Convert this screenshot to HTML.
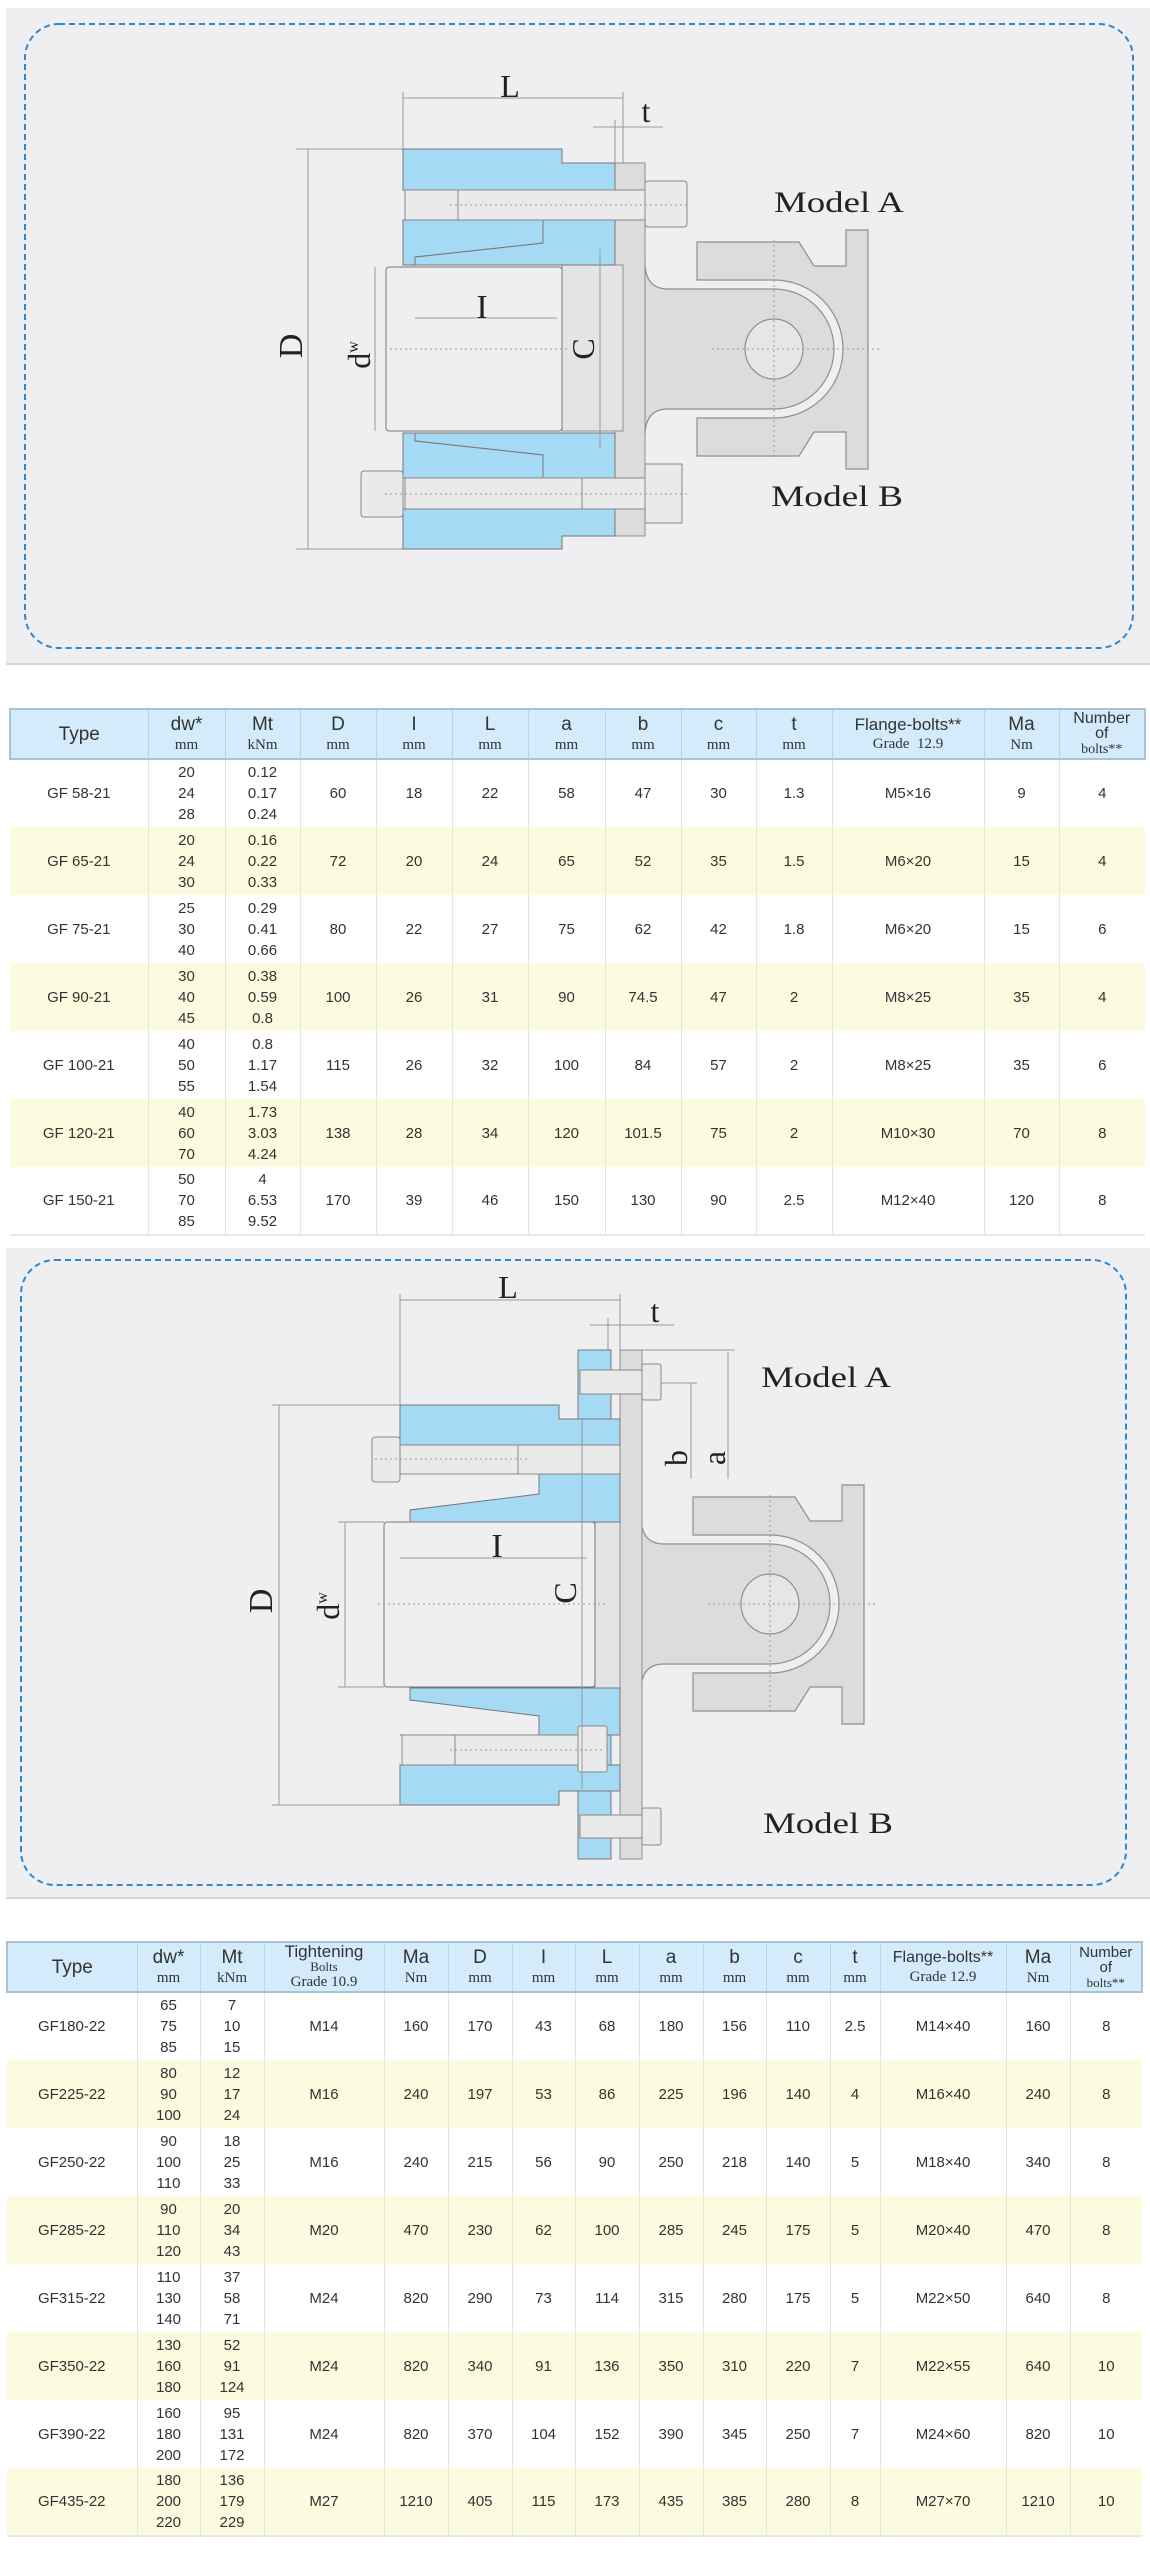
<!DOCTYPE html>
<html><head><meta charset="utf-8"><style>
*{margin:0;padding:0;box-sizing:border-box}
body{width:1150px;height:2554px;background:#fff;position:relative;font-family:"Liberation Sans",sans-serif;overflow:hidden}
svg{position:absolute;left:0}
table{position:absolute;border-collapse:collapse;table-layout:fixed;color:#333}
th{background:#d3ebfa;font-weight:normal;border-left:1px solid #b9d3e4;border-top:2px solid #a9c3d6;border-bottom:2px solid #a9c3d6;height:50px;line-height:1;vertical-align:middle;text-align:center;font-size:19px;color:#333}
th:first-child{border-left:2px solid #a9c3d6}
th:last-child{border-right:2px solid #a9c3d6}
th small{display:block;font-family:"Liberation Serif",serif;font-size:15px;margin-top:4px}
td{border-left:1px solid #e4e4e4;text-align:center;font-size:15px;height:68px;line-height:21px;vertical-align:middle}
td:first-child{border-left:none}
tr.y td{background:#fdfbdf}
tr:last-child td{border-bottom:2px solid #e8e8e8}
.dim{stroke:#999;stroke-width:1;fill:none}
.lbl{font-family:"Liberation Serif",serif;fill:#222}
</style></head><body>

<svg width="1150" height="2554" viewBox="0 0 1150 2554">
<defs>
<g id="pillow">
 <path d="M697,242 L799,242 L814,266 L846,266 L846,230 L868,230 L868,469 L846,469 L846,432 L814,432 L799,456 L697,456 L697,418 L774,418 A69,69 0 0 0 774,280 L697,280 Z" fill="#dcdcdc" stroke="#8f8f8f" stroke-width="1.2"/>
 <path d="M645,262 Q645,289 668,289 L774,289 A60,60 0 0 1 774,409 L668,409 Q645,409 645,436 Z" fill="#dcdcdc" stroke="#8f8f8f" stroke-width="1.2"/>
 <ellipse cx="774" cy="349" rx="29" ry="30" fill="#e6e6e6" stroke="#8f8f8f" stroke-width="1.2"/>
 <line x1="712" y1="349" x2="882" y2="349" stroke="#999" stroke-dasharray="2,3"/>
 <line x1="774" y1="240" x2="774" y2="460" stroke="#999" stroke-dasharray="2,3"/>
</g>
</defs>
<!-- panel 1 -->
<rect x="6" y="8" width="1144" height="656" fill="#efeff1"/>
<line x1="6" y1="664" x2="1150" y2="664" stroke="#d6d6d6" stroke-width="2"/>
<rect x="25" y="24" width="1108" height="624" rx="34" fill="none" stroke="#2a8ad8" stroke-width="2" stroke-dasharray="6,4"/>
<use href="#pillow"/>
<!-- flange gray -->
<rect x="615" y="163" width="30" height="373" fill="#dcdcdc" stroke="#8f8f8f"/>
<rect x="562" y="265" width="61" height="166" fill="#e4e4e4" stroke="#8f8f8f"/>
<!-- blue upper -->
<path d="M403,149 L562,149 L562,163 L615,163 L615,190 L403,190 Z" fill="#a4daf4" stroke="#777"/>
<path d="M403,220 L615,220 L615,265 L415,265 L415,257 L543,243 L543,220 Z" fill="#a4daf4" stroke="#777"/>
<path d="M403,220 L543,220 L543,243 L415,257 L415,265 L403,265 Z" fill="#a4daf4" stroke="#777"/>
<!-- blue lower -->
<path d="M403,549 L562,549 L562,536 L615,536 L615,509 L403,509 Z" fill="#a4daf4" stroke="#777"/>
<path d="M403,478 L615,478 L615,433 L415,433 L415,441 L543,455 L543,478 Z" fill="#a4daf4" stroke="#777"/>
<path d="M403,478 L543,478 L543,455 L415,441 L415,433 L403,433 Z" fill="#a4daf4" stroke="#777"/>
<!-- bolts -->
<rect x="405" y="190" width="240" height="30" fill="#eaeaea" stroke="#888"/>
<rect x="645" y="181" width="42" height="46" rx="3" fill="#eaeaea" stroke="#888"/>
<line x1="458" y1="190" x2="458" y2="220" stroke="#888"/>
<rect x="405" y="478" width="240" height="31" fill="#eaeaea" stroke="#888"/>
<rect x="361" y="471" width="42" height="46" rx="3" fill="#eaeaea" stroke="#888"/>
<rect x="645" y="464" width="37" height="59" fill="#eaeaea" stroke="#888"/>
<line x1="582" y1="478" x2="582" y2="509" stroke="#888"/>
<!-- shaft -->
<rect x="386" y="267" width="176" height="164" rx="3" fill="#efefef" stroke="#777"/>
<line x1="450" y1="205" x2="690" y2="205" stroke="#999" stroke-dasharray="2,3"/>
<line x1="385" y1="494" x2="690" y2="494" stroke="#999" stroke-dasharray="2,3"/>
<line x1="390" y1="349" x2="570" y2="349" stroke="#999" stroke-dasharray="2,3"/>
<!-- dims -->
<line class="dim" x1="403" y1="98" x2="623" y2="98"/><line class="dim" x1="403" y1="92" x2="403" y2="149"/><line class="dim" x1="623" y1="92" x2="623" y2="163"/>
<line class="dim" x1="593" y1="127" x2="663" y2="127"/><line class="dim" x1="615" y1="120" x2="615" y2="163"/>
<line class="dim" x1="308" y1="149" x2="308" y2="549"/><line class="dim" x1="296" y1="149" x2="403" y2="149"/><line class="dim" x1="296" y1="549" x2="403" y2="549"/>
<line class="dim" x1="375" y1="267" x2="375" y2="431"/>
<line class="dim" x1="415" y1="318" x2="557" y2="318"/>
<line class="dim" x1="600" y1="249" x2="600" y2="449"/>
<text class="lbl" x="510" y="97" font-size="32" text-anchor="middle">L</text>
<text class="lbl" x="646" y="122" font-size="32" text-anchor="middle">t</text>
<text class="lbl" x="482" y="318" font-size="34" text-anchor="middle">I</text>
<text class="lbl" font-size="34" transform="translate(302,346) rotate(-90)" text-anchor="middle">D</text>
<text class="lbl" font-size="32" transform="translate(370,355) rotate(-90)" text-anchor="middle">d<tspan font-size="16" dy="-12">w</tspan></text>
<text class="lbl" font-size="32" transform="translate(594,349) rotate(-90)" text-anchor="middle">C</text>
<text class="lbl" x="774" y="212" font-size="30" textLength="130" lengthAdjust="spacingAndGlyphs">Model A</text>
<text class="lbl" x="771" y="506" font-size="30" textLength="132" lengthAdjust="spacingAndGlyphs">Model B</text>

<!-- panel 2 -->
<rect x="6" y="1248" width="1144" height="650" fill="#efeff1"/>
<line x1="6" y1="1898" x2="1150" y2="1898" stroke="#d6d6d6" stroke-width="2"/>
<rect x="21" y="1260" width="1105" height="625" rx="34" fill="none" stroke="#2a8ad8" stroke-width="2" stroke-dasharray="6,4"/>
<g transform="translate(-4,1255)"><use href="#pillow"/></g>
<rect x="620" y="1350" width="22" height="509" fill="#dcdcdc" stroke="#8f8f8f"/>
<rect x="578" y="1350" width="33" height="509" fill="#a4daf4" stroke="#777"/>
<rect x="595" y="1522" width="25" height="166" fill="#e4e4e4" stroke="#8f8f8f"/>
<path d="M400,1405 L559,1405 L559,1419 L620,1419 L620,1445 L400,1445 Z" fill="#a4daf4" stroke="#777"/>
<path d="M400,1474 L620,1474 L620,1522 L410,1522 L410,1510 L539,1494 L539,1474 Z" fill="#a4daf4" stroke="#777"/>
<path d="M400,1805 L559,1805 L559,1791 L620,1791 L620,1765 L400,1765 Z" fill="#a4daf4" stroke="#777"/>
<path d="M400,1735 L620,1735 L620,1688 L410,1688 L410,1700 L539,1716 L539,1735 Z" fill="#a4daf4" stroke="#777"/>
<rect x="400" y="1445" width="220" height="29" fill="#eaeaea" stroke="#888"/>
<rect x="372" y="1437" width="28" height="45" rx="3" fill="#eaeaea" stroke="#888"/>
<line x1="518" y1="1445" x2="518" y2="1474" stroke="#888"/>
<rect x="402" y="1735" width="176" height="30" fill="#eaeaea" stroke="#888"/>
<rect x="578" y="1726" width="29" height="46" rx="2" fill="#eaeaea" stroke="#888"/>
<line x1="455" y1="1735" x2="455" y2="1765" stroke="#888"/>
<rect x="580" y="1370" width="62" height="24" fill="#eaeaea" stroke="#888"/>
<rect x="642" y="1364" width="19" height="36" rx="2" fill="#eaeaea" stroke="#888"/>
<rect x="580" y="1815" width="62" height="23" fill="#eaeaea" stroke="#888"/>
<rect x="642" y="1808" width="19" height="37" rx="2" fill="#eaeaea" stroke="#888"/>
<rect x="384" y="1522" width="211" height="165" rx="3" fill="#efefef" stroke="#777"/>
<line x1="378" y1="1604" x2="605" y2="1604" stroke="#999" stroke-dasharray="2,3"/>
<line x1="375" y1="1459" x2="530" y2="1459" stroke="#999" stroke-dasharray="2,3"/>
<line x1="450" y1="1750" x2="605" y2="1750" stroke="#999" stroke-dasharray="2,3"/>
<line class="dim" x1="400" y1="1300" x2="620" y2="1300"/><line class="dim" x1="400" y1="1294" x2="400" y2="1405"/><line class="dim" x1="620" y1="1294" x2="620" y2="1350"/>
<line class="dim" x1="590" y1="1325" x2="674" y2="1325"/><line class="dim" x1="608" y1="1318" x2="608" y2="1350"/>
<line class="dim" x1="691" y1="1383" x2="691" y2="1479"/><line class="dim" x1="661" y1="1383" x2="697" y2="1383"/>
<line class="dim" x1="728" y1="1352" x2="728" y2="1479"/><line class="dim" x1="642" y1="1350" x2="735" y2="1350"/>
<line class="dim" x1="279" y1="1405" x2="279" y2="1805"/><line class="dim" x1="272" y1="1405" x2="400" y2="1405"/><line class="dim" x1="272" y1="1805" x2="400" y2="1805"/>
<line class="dim" x1="345" y1="1522" x2="345" y2="1687"/><line class="dim" x1="338" y1="1522" x2="384" y2="1522"/><line class="dim" x1="338" y1="1687" x2="384" y2="1687"/>
<line class="dim" x1="400" y1="1558" x2="587" y2="1558"/>
<line class="dim" x1="582" y1="1419" x2="582" y2="1789"/>
<text class="lbl" x="508" y="1298" font-size="32" text-anchor="middle">L</text>
<text class="lbl" x="655" y="1322" font-size="32" text-anchor="middle">t</text>
<text class="lbl" x="497" y="1557" font-size="34" text-anchor="middle">I</text>
<text class="lbl" font-size="32" transform="translate(687,1458) rotate(-90)" text-anchor="middle">b</text>
<text class="lbl" font-size="32" transform="translate(725,1458) rotate(-90)" text-anchor="middle">a</text>
<text class="lbl" font-size="34" transform="translate(272,1601) rotate(-90)" text-anchor="middle">D</text>
<text class="lbl" font-size="32" transform="translate(339,1606) rotate(-90)" text-anchor="middle">d<tspan font-size="16" dy="-12">w</tspan></text>
<text class="lbl" font-size="32" transform="translate(576,1593) rotate(-90)" text-anchor="middle">C</text>
<text class="lbl" x="761" y="1387" font-size="30" textLength="130" lengthAdjust="spacingAndGlyphs">Model A</text>
<text class="lbl" x="763" y="1833" font-size="30" textLength="130" lengthAdjust="spacingAndGlyphs">Model B</text>
</svg>

<table style="left:9px;top:708px;width:1135px">
<colgroup><col style="width:138px"><col style="width:77px"><col style="width:75px"><col style="width:76px"><col style="width:76px"><col style="width:76px"><col style="width:77px"><col style="width:76px"><col style="width:75px"><col style="width:76px"><col style="width:152px"><col style="width:75px"><col style="width:86px"></colgroup>
<tr><th>Type</th><th>dw*<small>mm</small></th><th>Mt<small>kNm</small></th><th>D<small>mm</small></th><th>I<small>mm</small></th><th>L<small>mm</small></th><th>a<small>mm</small></th><th>b<small>mm</small></th><th>c<small>mm</small></th><th>t<small>mm</small></th><th style="font-size:17px">Flange-bolts**<small>Grade&nbsp; 12.9</small></th><th>Ma<small>Nm</small></th><th style="font-size:16px;line-height:15px">Number<br>of<br><span style="font-family:'Liberation Serif',serif;font-size:14px">bolts**</span></th></tr>
<tr><td>GF 58-21</td><td>20<br>24<br>28</td><td>0.12<br>0.17<br>0.24</td><td>60</td><td>18</td><td>22</td><td>58</td><td>47</td><td>30</td><td>1.3</td><td>M5×16</td><td>9</td><td>4</td></tr>
<tr class="y"><td>GF 65-21</td><td>20<br>24<br>30</td><td>0.16<br>0.22<br>0.33</td><td>72</td><td>20</td><td>24</td><td>65</td><td>52</td><td>35</td><td>1.5</td><td>M6×20</td><td>15</td><td>4</td></tr>
<tr><td>GF 75-21</td><td>25<br>30<br>40</td><td>0.29<br>0.41<br>0.66</td><td>80</td><td>22</td><td>27</td><td>75</td><td>62</td><td>42</td><td>1.8</td><td>M6×20</td><td>15</td><td>6</td></tr>
<tr class="y"><td>GF 90-21</td><td>30<br>40<br>45</td><td>0.38<br>0.59<br>0.8</td><td>100</td><td>26</td><td>31</td><td>90</td><td>74.5</td><td>47</td><td>2</td><td>M8×25</td><td>35</td><td>4</td></tr>
<tr><td>GF 100-21</td><td>40<br>50<br>55</td><td>0.8<br>1.17<br>1.54</td><td>115</td><td>26</td><td>32</td><td>100</td><td>84</td><td>57</td><td>2</td><td>M8×25</td><td>35</td><td>6</td></tr>
<tr class="y"><td>GF 120-21</td><td>40<br>60<br>70</td><td>1.73<br>3.03<br>4.24</td><td>138</td><td>28</td><td>34</td><td>120</td><td>101.5</td><td>75</td><td>2</td><td>M10×30</td><td>70</td><td>8</td></tr>
<tr><td>GF 150-21</td><td>50<br>70<br>85</td><td>4<br>6.53<br>9.52</td><td>170</td><td>39</td><td>46</td><td>150</td><td>130</td><td>90</td><td>2.5</td><td>M12×40</td><td>120</td><td>8</td></tr>
</table>

<table style="left:6px;top:1941px;width:1135px">
<colgroup><col style="width:130px"><col style="width:63px"><col style="width:64px"><col style="width:120px"><col style="width:64px"><col style="width:64px"><col style="width:63px"><col style="width:64px"><col style="width:64px"><col style="width:63px"><col style="width:64px"><col style="width:50px"><col style="width:126px"><col style="width:64px"><col style="width:72px"></colgroup>
<tr><th>Type</th><th>dw*<small>mm</small></th><th>Mt<small>kNm</small></th><th style="font-size:17px;line-height:14px">Tightening<br><span style="font-family:'Liberation Serif',serif;font-size:13px">Bolts</span><br><span style="font-family:'Liberation Serif',serif;font-size:15px">Grade 10.9</span></th><th>Ma<small>Nm</small></th><th>D<small>mm</small></th><th>I<small>mm</small></th><th>L<small>mm</small></th><th>a<small>mm</small></th><th>b<small>mm</small></th><th>c<small>mm</small></th><th>t<small>mm</small></th><th style="font-size:16px">Flange-bolts**<small>Grade&nbsp;12.9</small></th><th>Ma<small>Nm</small></th><th style="font-size:15px;line-height:15px">Number<br>of<br><span style="font-family:'Liberation Serif',serif;font-size:13px">bolts**</span></th></tr>
<tr><td>GF180-22</td><td>65<br>75<br>85</td><td>7<br>10<br>15</td><td>M14</td><td>160</td><td>170</td><td>43</td><td>68</td><td>180</td><td>156</td><td>110</td><td>2.5</td><td>M14×40</td><td>160</td><td>8</td></tr>
<tr class="y"><td>GF225-22</td><td>80<br>90<br>100</td><td>12<br>17<br>24</td><td>M16</td><td>240</td><td>197</td><td>53</td><td>86</td><td>225</td><td>196</td><td>140</td><td>4</td><td>M16×40</td><td>240</td><td>8</td></tr>
<tr><td>GF250-22</td><td>90<br>100<br>110</td><td>18<br>25<br>33</td><td>M16</td><td>240</td><td>215</td><td>56</td><td>90</td><td>250</td><td>218</td><td>140</td><td>5</td><td>M18×40</td><td>340</td><td>8</td></tr>
<tr class="y"><td>GF285-22</td><td>90<br>110<br>120</td><td>20<br>34<br>43</td><td>M20</td><td>470</td><td>230</td><td>62</td><td>100</td><td>285</td><td>245</td><td>175</td><td>5</td><td>M20×40</td><td>470</td><td>8</td></tr>
<tr><td>GF315-22</td><td>110<br>130<br>140</td><td>37<br>58<br>71</td><td>M24</td><td>820</td><td>290</td><td>73</td><td>114</td><td>315</td><td>280</td><td>175</td><td>5</td><td>M22×50</td><td>640</td><td>8</td></tr>
<tr class="y"><td>GF350-22</td><td>130<br>160<br>180</td><td>52<br>91<br>124</td><td>M24</td><td>820</td><td>340</td><td>91</td><td>136</td><td>350</td><td>310</td><td>220</td><td>7</td><td>M22×55</td><td>640</td><td>10</td></tr>
<tr><td>GF390-22</td><td>160<br>180<br>200</td><td>95<br>131<br>172</td><td>M24</td><td>820</td><td>370</td><td>104</td><td>152</td><td>390</td><td>345</td><td>250</td><td>7</td><td>M24×60</td><td>820</td><td>10</td></tr>
<tr class="y"><td>GF435-22</td><td>180<br>200<br>220</td><td>136<br>179<br>229</td><td>M27</td><td>1210</td><td>405</td><td>115</td><td>173</td><td>435</td><td>385</td><td>280</td><td>8</td><td>M27×70</td><td>1210</td><td>10</td></tr>
</table>
</body></html>
